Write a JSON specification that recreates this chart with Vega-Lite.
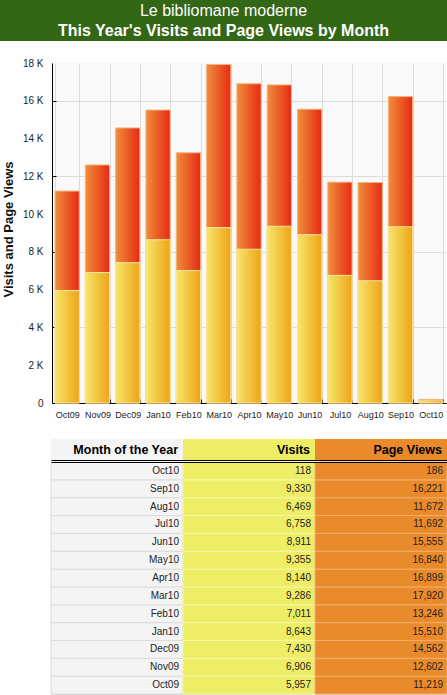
{
  "$schema": "https://vega.github.io/schema/vega-lite/v6.json",
  "padding": 0,
  "background": "white",
  "config": {"font": "Liberation Sans", "view": {"stroke": null}},
  "datasets": {
    "monthly": [
      {"month": "Oct09", "visits": 5957, "pageViews": 11219},
      {"month": "Nov09", "visits": 6906, "pageViews": 12602},
      {"month": "Dec09", "visits": 7430, "pageViews": 14562},
      {"month": "Jan10", "visits": 8643, "pageViews": 15510},
      {"month": "Feb10", "visits": 7011, "pageViews": 13246},
      {"month": "Mar10", "visits": 9286, "pageViews": 17920},
      {"month": "Apr10", "visits": 8140, "pageViews": 16899},
      {"month": "May10", "visits": 9355, "pageViews": 16840},
      {"month": "Jun10", "visits": 8911, "pageViews": 15555},
      {"month": "Jul10", "visits": 6758, "pageViews": 11692},
      {"month": "Aug10", "visits": 6469, "pageViews": 11672},
      {"month": "Sep10", "visits": 9330, "pageViews": 16221},
      {"month": "Oct10", "visits": 118, "pageViews": 186}
    ],
    "headerLines": [
      {"role": "site", "line": "Le bibliomane moderne"},
      {"role": "title", "line": "This Year's Visits and Page Views by Month"}
    ],
    "tableColumns": [
      {"col": "Month of the Year"},
      {"col": "Visits"},
      {"col": "Page Views"}
    ]
  },
  "spacing": 19,
  "vconcat": [
    {
      "spacing": 17,
      "vconcat": [
        {
          "width": 447,
          "height": 41,
          "view": {"fill": "#336615", "stroke": null},
          "data": {"name": "headerLines"},
          "encoding": {
            "y": {"field": "role", "type": "nominal", "sort": ["site", "title"], "axis": null, "scale": {"paddingInner": 0, "paddingOuter": 0.05}},
            "text": {"field": "line"}
          },
          "layer": [
            {"transform": [{"filter": "datum.role === 'site'"}], "mark": {"type": "text", "color": "white", "fontSize": 16, "dy": 1}},
            {"transform": [{"filter": "datum.role === 'title'"}], "mark": {"type": "text", "color": "white", "fontSize": 16, "fontWeight": "bold"}}
          ]
        },
        {
          "spacing": 0,
          "hconcat": [
            {
              "width": 51,
              "height": 340,
              "data": {"name": "monthly"},
              "mark": {"type": "point", "opacity": 0},
              "encoding": {
                "y": {
                  "field": "pageViews",
                  "type": "quantitative",
                  "scale": {"domain": [0, 18000]},
                  "axis": {
                    "orient": "right",
                    "values": [0, 2000, 4000, 6000, 8000, 10000, 12000, 14000, 16000, 18000],
                    "labelExpr": "datum.value === 0 ? '0' : format(datum.value / 1000, 'd') + ' K'",
                    "domain": false,
                    "ticks": false,
                    "grid": false,
                    "labelAlign": "right",
                    "labelPadding": -8,
                    "labelFontSize": 10,
                    "labelColor": "#222222",
                    "title": "Visits and Page Views",
                    "titleFontSize": 13,
                    "titleFontWeight": "bold",
                    "titleColor": "#111111",
                    "titleAngle": 270,
                    "titleX": -43,
                    "titleY": 166,
                    "titleAlign": "center",
                    "titleBaseline": "middle"
                  }
                }
              }
            },
            {
              "width": 394,
              "height": 340,
              "view": {"fill": "#f9f9f9", "stroke": null},
              "data": {"name": "monthly"},
              "encoding": {
                "x": {
                  "field": "month",
                  "type": "ordinal",
                  "sort": null,
                  "scale": {"paddingInner": 0.2, "paddingOuter": 0.1},
                  "axis": {
                    "title": null,
                    "domainColor": "black",
                    "tickBand": "extent",
                    "tickColor": "black",
                    "tickSize": -4,
                    "grid": true,
                    "gridColor": "#dcdcdc",
                    "labelAngle": 0,
                    "labelFontSize": 9,
                    "labelColor": "#222222",
                    "labelPadding": 11
                  }
                }
              },
              "layer": [
                {
                  "mark": {
                    "type": "bar",
                    "fill": {"gradient": "linear", "x1": 0, "y1": 0, "x2": 1, "y2": 0, "stops": [{"offset": 0, "color": "#f08e3a"}, {"offset": 1, "color": "#e62a14"}]},
                    "stroke": "#f6b27a",
                    "strokeWidth": 1
                  },
                  "encoding": {
                    "y": {
                      "field": "pageViews",
                      "type": "quantitative",
                      "scale": {"domain": [0, 18000]},
                      "axis": {
                        "values": [0, 1000, 2000, 3000, 4000, 5000, 6000, 7000, 8000, 9000, 10000, 11000, 12000, 13000, 14000, 15000, 16000, 17000, 18000],
                        "labels": false,
                        "title": null,
                        "domainColor": "black",
                        "tickColor": "black",
                        "tickSize": -4,
                        "gridColor": "#dcdcdc",
                        "gridOpacity": {"condition": {"test": "datum.value % 2000 === 0", "value": 1}, "value": 0}
                      }
                    }
                  }
                },
                {
                  "mark": {
                    "type": "bar",
                    "fill": {"gradient": "linear", "x1": 0, "y1": 0, "x2": 1, "y2": 0, "stops": [{"offset": 0, "color": "#f6e66a"}, {"offset": 1, "color": "#eea416"}]},
                    "stroke": "#fbe6a0",
                    "strokeWidth": 1
                  },
                  "encoding": {
                    "y": {"field": "visits", "type": "quantitative"}
                  }
                }
              ]
            }
          ]
        }
      ]
    },
    {
      "spacing": 0,
      "hconcat": [
        {"width": 50, "height": 20, "data": {"values": []}, "mark": "point"},
        {
          "spacing": 0,
          "vconcat": [
            {
              "width": 396,
              "height": 21,
              "view": {"stroke": "#d8d8d8"},
              "data": {"name": "tableColumns"},
              "encoding": {
                "x": {
                  "field": "col",
                  "type": "nominal",
                  "sort": null,
                  "scale": {"domain": ["Month of the Year", "Visits", "Page Views"], "paddingInner": 0, "paddingOuter": 0},
                  "axis": {"orient": "bottom", "title": null, "labels": false, "ticks": false, "domainColor": "black", "grid": false}
                }
              },
              "layer": [
                {
                  "mark": {"type": "rect"},
                  "encoding": {
                    "color": {"field": "col", "type": "nominal", "scale": {"domain": ["Month of the Year", "Visits", "Page Views"], "range": ["#f4f4f4", "#eded66", "#e98b2b"]}, "legend": null}
                  }
                },
                {
                  "mark": {"type": "text", "align": "right", "dx": -5, "fontSize": 12.5, "fontWeight": "bold", "color": "black"},
                  "encoding": {
                    "x": {"field": "col", "type": "nominal", "sort": null, "bandPosition": 1},
                    "text": {"field": "col"}
                  }
                }
              ]
            },
            {
              "width": 396,
              "height": 232,
              "view": {"stroke": "#d8d8d8"},
              "data": {"name": "monthly"},
              "encoding": {
                "y": {
                  "field": "month",
                  "type": "ordinal",
                  "sort": ["Oct10", "Sep10", "Aug10", "Jul10", "Jun10", "May10", "Apr10", "Mar10", "Feb10", "Jan10", "Dec09", "Nov09", "Oct09"],
                  "scale": {"paddingInner": 0, "paddingOuter": 0},
                  "axis": null
                }
              },
              "layer": [
                {
                  "mark": {"type": "rect", "fill": "#f4f4f4", "stroke": "#dcdcdc", "strokeWidth": 1},
                  "encoding": {
                    "x": {
                      "datum": "Month of the Year",
                      "type": "nominal",
                      "scale": {"domain": ["Month of the Year", "Visits", "Page Views"], "paddingInner": 0, "paddingOuter": 0},
                      "axis": {"orient": "top", "title": null, "labels": false, "ticks": false, "domainColor": "black", "grid": false}
                    }
                  }
                },
                {
                  "mark": {"type": "rect", "fill": "#eded66", "stroke": "#f6f6a8", "strokeWidth": 1},
                  "encoding": {"x": {"datum": "Visits", "type": "nominal"}}
                },
                {
                  "mark": {"type": "rect", "fill": "#e98b2b", "stroke": "#f0ad6a", "strokeWidth": 1},
                  "encoding": {"x": {"datum": "Page Views", "type": "nominal"}}
                },
                {
                  "mark": {"type": "text", "align": "right", "dx": -4, "fontSize": 10, "color": "#222222"},
                  "encoding": {
                    "x": {"datum": "Month of the Year", "type": "nominal", "bandPosition": 1},
                    "text": {"field": "month"}
                  }
                },
                {
                  "mark": {"type": "text", "align": "right", "dx": -4, "fontSize": 10, "color": "#222222"},
                  "encoding": {
                    "x": {"datum": "Visits", "type": "nominal", "bandPosition": 1},
                    "text": {"field": "visits", "type": "quantitative", "format": ",d"}
                  }
                },
                {
                  "mark": {"type": "text", "align": "right", "dx": -4, "fontSize": 10, "color": "#222222"},
                  "encoding": {
                    "x": {"datum": "Page Views", "type": "nominal", "bandPosition": 1},
                    "text": {"field": "pageViews", "type": "quantitative", "format": ",d"}
                  }
                }
              ]
            }
          ]
        }
      ]
    }
  ]
}
